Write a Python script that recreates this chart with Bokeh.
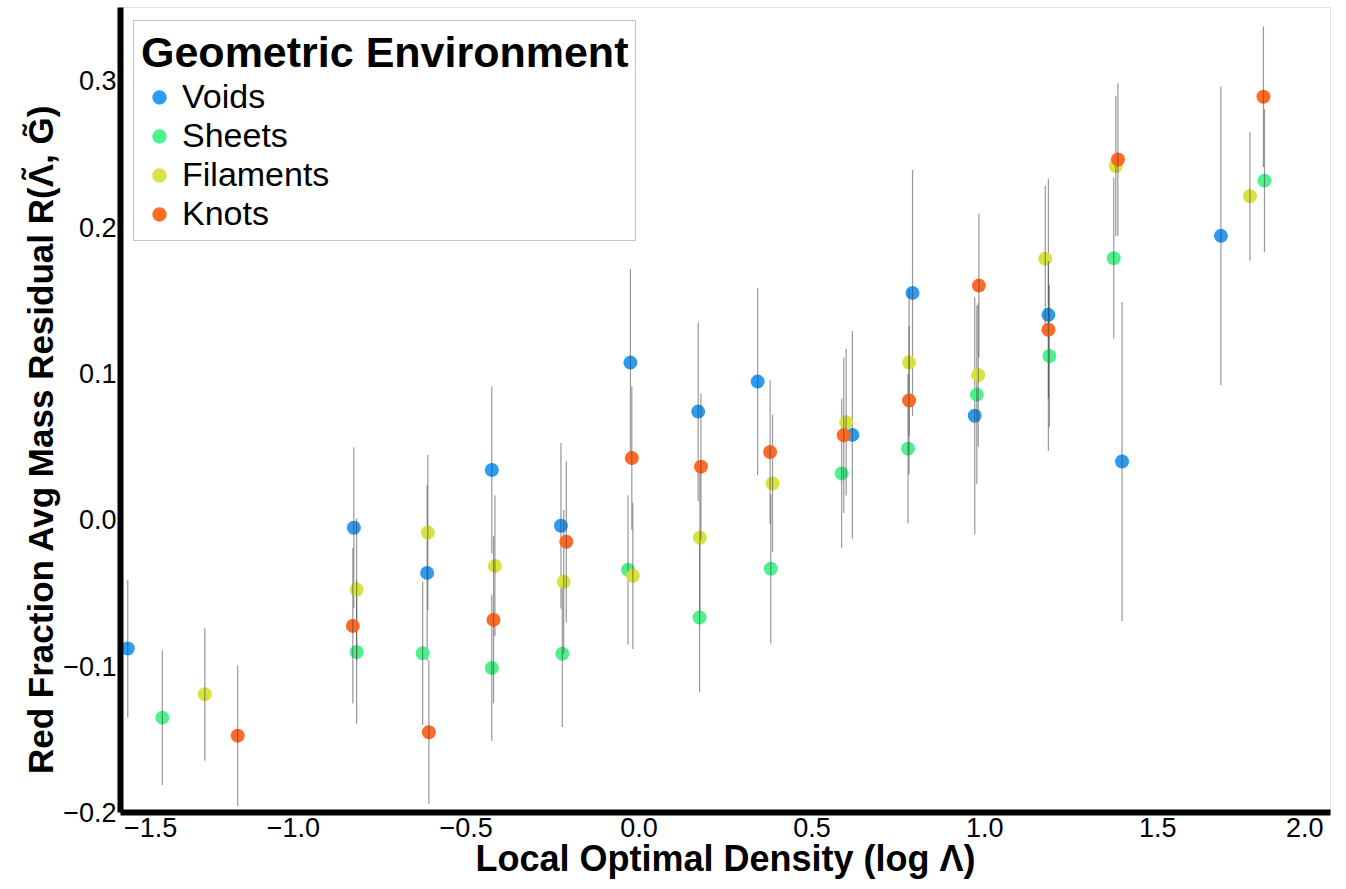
from bokeh.plotting import figure
from bokeh.models import ColumnDataSource, FixedTicker, Range1d, CustomJSTickFormatter
from bokeh.embed import file_html
from bokeh.resources import INLINE

# ---- data ----
environments = ["Voids", "Sheets", "Filaments", "Knots"]
env_colors = ["#2196f3", "#45f088", "#d6e036", "#ff621c"]

voids_x = [-1.479, -0.825, -0.613, -0.426, -0.226, -0.025, 0.171, 0.343, 0.617, 0.791, 0.971, 1.184, 1.397, 1.683]
voids_y = [-0.088, -0.0055, -0.0363, 0.034, -0.0041, 0.1074, 0.0739, 0.0944, 0.058, 0.155, 0.0711, 0.140, 0.0398, 0.194]
voids_err = [0.047, 0.055, 0.060, 0.057, 0.0566, 0.064, 0.061, 0.064, 0.071, 0.084, 0.081, 0.093, 0.109, 0.102]

sheets_x = [-1.379, -0.817, -0.626, -0.426, -0.222, -0.032, 0.175, 0.381, 0.586, 0.778, 0.977, 1.187, 1.373, 1.809]
sheets_y = [-0.1352, -0.0903, -0.0912, -0.1012, -0.0915, -0.0342, -0.0668, -0.0335, 0.0317, 0.0486, 0.0855, 0.1119, 0.1787, 0.2317]
sheets_err = [0.046, 0.049, 0.049, 0.050, 0.050, 0.051, 0.051, 0.051, 0.051, 0.051, 0.061, 0.0486, 0.055, 0.049]

filaments_x = [-1.256, -0.817, -0.611, -0.417, -0.218, -0.018, 0.176, 0.386, 0.599, 0.781, 0.981, 1.175, 1.379, 1.767]
filaments_y = [-0.1192, -0.0477, -0.0087, -0.0315, -0.0424, -0.0383, -0.0123, 0.0248, 0.0666, 0.1074, 0.0989, 0.1783, 0.2417, 0.221]
filaments_err = [0.0455, 0.0486, 0.053, 0.048, 0.049, 0.050, 0.050, 0.047, 0.050, 0.050, 0.049, 0.050, 0.048, 0.044]

knots_x = [-1.161, -0.828, -0.608, -0.421, -0.2105, -0.021, 0.179, 0.379, 0.592, 0.781, 0.983, 1.184, 1.385, 1.806]
knots_y = [-0.1475, -0.0725, -0.1452, -0.0684, -0.015, 0.0422, 0.0363, 0.0463, 0.0577, 0.0815, 0.160, 0.1298, 0.2462, 0.289]
knots_err = [0.048, 0.053, 0.049, 0.057, 0.055, 0.049, 0.050, 0.049, 0.053, 0.0505, 0.049, 0.047, 0.052, 0.048]

x_ticks = [-1.5, -1.0, -0.5, 0.0, 0.5, 1.0, 1.5, 2.0]
x_tick_labels = ["\u22121.5", "\u22121.0", "\u22120.5", "0.0", "0.5", "1.0", "1.5", "2.0"]
y_ticks = [-0.2, -0.1, 0.0, 0.1, 0.2, 0.3]
y_tick_labels = ["\u22120.2", "\u22120.1", "0.0", "0.1", "0.2", "0.3"]

x_title = "Local Optimal Density (log \u039b)"
y_title = "Red Fraction Avg Mass Residual R(\u039b\u0303, G\u0303)"
legend_title = "Geometric Environment"

series = [
    (voids_x, voids_y, voids_err),
    (sheets_x, sheets_y, sheets_err),
    (filaments_x, filaments_y, filaments_err),
    (knots_x, knots_y, knots_err),
]

FONT = "Liberation Sans"
FSP = "\u2007"  # figure space, used only to nudge edge labels

p = figure(
    width=1338, height=881,
    x_range=Range1d(-1.5, 2.0), y_range=Range1d(-0.2, 0.35),
    output_backend="svg", toolbar_location=None,
    min_border_left=120, min_border_right=8, min_border_top=7, min_border_bottom=30,
    background_fill_color="white", border_fill_color="white",
)
p.outline_line_color = "#dddddd"
p.outline_line_width = 1
p.xgrid.visible = False
p.ygrid.visible = False

for name, col, (xs, ys, es) in zip(environments, env_colors, series):
    src = ColumnDataSource(dict(
        x=xs, y=ys,
        lo=[y - e for y, e in zip(ys, es)],
        hi=[y + e for y, e in zip(ys, es)],
    ))
    p.scatter("x", "y", source=src, size=14, fill_color=col, line_color=None,
              fill_alpha=0.95, legend_label=name)
    p.segment(x0="x", y0="lo", x1="x", y1="hi", source=src,
              line_color="#444444", line_alpha=0.55, line_width=1.2)

p.xaxis.ticker = FixedTicker(ticks=x_ticks)
p.xaxis.formatter = CustomJSTickFormatter(
    args=dict(tvals=x_ticks, tlabels=x_tick_labels, padc=FSP),
    code="""
let k = -1;
for (let j = 0; j < tvals.length; j++) { if (Math.abs(tvals[j] - tick) < 1e-9) k = j; }
if (k < 0) return "";
let s = tlabels[k];
if (k == 0) s = padc.repeat(4) + s;
if (k == tvals.length - 1) s = s + padc;
return s;
""")
p.yaxis.ticker = FixedTicker(ticks=y_ticks)
p.yaxis.formatter = CustomJSTickFormatter(
    args=dict(tvals=y_ticks, tlabels=y_tick_labels),
    code="""
let k = -1;
for (let j = 0; j < tvals.length; j++) { if (Math.abs(tvals[j] - tick) < 1e-9) k = j; }
return k < 0 ? "" : tlabels[k];
""")

for ax in (p.xaxis[0], p.yaxis[0]):
    ax.axis_line_width = 6
    ax.axis_line_color = "black"
    ax.major_tick_line_color = None
    ax.minor_tick_line_color = None
    ax.major_tick_out = 0
    ax.major_tick_in = 0
    ax.major_label_text_font = FONT
    ax.major_label_text_font_size = "27px"
    ax.major_label_text_line_height = 1.0
    ax.major_label_text_color = "black"
    ax.axis_label_text_font = FONT
    ax.axis_label_text_font_style = "bold"
    ax.axis_label_text_color = "black"
    ax.axis_label_text_line_height = 1.0

p.xaxis.axis_label = x_title
p.xaxis.axis_label_text_font_size = "36px"
p.xaxis.major_label_standoff = 0
p.xaxis.axis_label_standoff = -8

p.yaxis.axis_label = y_title + FSP * 3
p.yaxis.axis_label_text_font_size = "35px"
p.yaxis.major_label_standoff = 4
p.yaxis.axis_label_standoff = 0

lg = p.legend[0]
lg.location = "top_left"
lg.title = legend_title
lg.title_text_font = FONT
lg.title_text_font_style = "bold"
lg.title_text_font_size = "43px"
lg.title_text_color = "black"
lg.title_standoff = 0
lg.label_text_font = FONT
lg.label_text_font_size = "34px"
lg.label_text_color = "black"
lg.glyph_width = 36
lg.glyph_height = 38
lg.label_height = 38
lg.label_standoff = 5
lg.spacing = 0
lg.padding = 7
lg.margin = 13
lg.border_line_color = "#888888"
lg.border_line_width = 1
lg.background_fill_alpha = 1.0

open("out.html", "w").write(file_html(p, INLINE))
